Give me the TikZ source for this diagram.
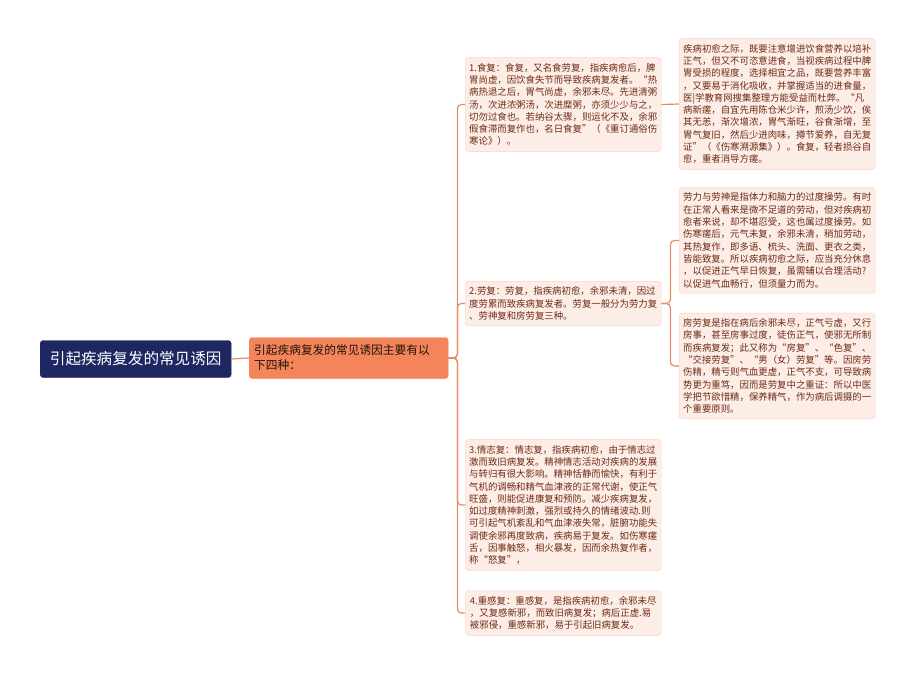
\documentclass[tikz,border=0pt]{standalone}
\usepackage{fontspec}
\newfontfamily\cjk{Noto Sans CJK SC}
\definecolor{navy}{HTML}{1E2761}
\definecolor{coral}{HTML}{F4845A}
\definecolor{blush}{HTML}{FDEDE7}
\definecolor{blushline}{HTML}{F8D3C6}
\definecolor{linkc}{HTML}{E48D66}
\definecolor{leaftext}{HTML}{6E2A12}
\begin{document}
\begin{tikzpicture}
[x=1pt,y=-1pt,
rootbox/.style={draw=navy,fill=navy,text=white,rounded corners=3pt,anchor=west,
  minimum width=191pt,minimum height=37pt,font=\cjk\fontsize{15.6}{18}\selectfont},
midbox/.style={draw=coral,fill=coral,text=black!85!brown,rounded corners=3pt,anchor=west,
  text width=189pt,minimum height=41pt,align=left,inner xsep=5pt,
  font=\cjk\fontsize{11.7}{15}\selectfont},
leafbox/.style={draw=blushline,fill=blush,text=leaftext,rounded corners=3pt,anchor=west,
  minimum width=196pt,align=left,inner xsep=4pt,inner ysep=5.5pt,
  font=\cjk\fontsize{9.4}{12.3}\selectfont},
link/.style={draw=linkc,line width=1.2pt,rounded corners=4pt}]
\useasboundingbox[fill=white] (0,0) rectangle (915,675);

\node[rootbox] (root) at (40,359) {引起疾病复发的常见诱因};
\node[midbox] (mid) at (249,358) {引起疾病复发的常见诱因主要有以\\下四种：};

\node[leafbox] (shi) at (465,104.5) {1.食复：食复，又名食劳复，指疾病愈后，脾\\
胃尚虚，因饮食失节而导致疾病复发者。“热\\
病热退之后，胃气尚虚，余邪未尽。先进清粥\\
汤，次进浓粥汤，次进糜粥，亦须少少与之，\\
切勿过食也。若纳谷太骤，则运化不及，余邪\\
假食滞而复作也，名日食复”（《重订通俗伤\\
寒论》）。};
\node[leafbox] (lao) at (465,303.5) {2.劳复：劳复，指疾病初愈，余邪未清，因过\\
度劳累而致疾病复发者。劳复一般分为劳力复\\
、劳神复和房劳复三种。};
\node[leafbox] (qing) at (465,505) {3.情志复：情志复，指疾病初愈，由于情志过\\
激而致旧病复发。精神情志活动对疾病的发展\\
与转归有很大影响。精神恬静而愉快，有利于\\
气机的调畅和精气血津液的正常代谢，使正气\\
旺盛，则能促进康复和预防。减少疾病复发，\\
如过度精神刺激，强烈或持久的情绪波动.则\\
可引起气机紊乱和气血津液失常，脏腑功能失\\
调使余邪再度致病，疾病易于复发。如伤寒瘥\\
舌，因事触怒，相火暴发，因而余热复作者，\\
称“怒复”，};
\node[leafbox] (gan) at (465,613) {4.重感复：重感复，是指疾病初愈，余邪未尽\\
，又复感新邪，而致旧病复发；病后正虚.易\\
被邪侵，重感新邪，易于引起旧病复发。};

\node[leafbox] (shi1) at (679,104) {疾病初愈之际，既要注意增进饮食营养以培补\\
正气，但又不可恣意进食，当视疾病过程中脾\\
胃受损的程度，选择相宜之品，既要营养丰富\\
，又要易于消化吸收，并掌握适当的进食量，\\
医|学教育网搜集整理方能受益而杜弊。“凡\\
病新瘥，自宜先用陈仓米少许，煎汤少饮，俟\\
其无恙，渐次增浓，胃气渐旺，谷食渐增，至\\
胃气复旧，然后少进肉味，撙节爱养，自无复\\
证”（《伤寒溯源集》）。食复，轻者损谷自\\
愈，重者消导方瘥。};
\node[leafbox] (lao1) at (679,240.5) {劳力与劳神是指体力和脑力的过度操劳。有时\\
在正常人看来是微不足道的劳动，但对疾病初\\
愈者来说，却不堪忍受，这也属过度操劳。如\\
伤寒瘥后，元气未复，余邪未清，稍加劳动，\\
其热复作，即多语、梳头、洗面、更衣之类，\\
皆能致复。所以疾病初愈之际，应当充分休息\\
，以促进正气早日恢复，虽需辅以合理活动?\\
以促进气血畅行，但须量力而为。};
\node[leafbox] (lao2) at (679,366) {房劳复是指在病后余邪未尽，正气亏虚，又行\\
房事，甚至房事过度，徒伤正气，使邪无所制\\
而疾病复发；此又称为“房复”、“色复”、\\
“交接劳复”、“男（女）劳复”等。因房劳\\
伤精，精亏则气血更虚，正气不支，可导致病\\
势更为重笃，因而是劳复中之重证：所以中医\\
学把节欲惜精，保养精气，作为病后调摄的一\\
个重要原则。};

% connectors
\draw[link] (root.east) -- (mid.west);
\foreach \k in {shi,lao,qing,gan}{
\draw[link] (mid.east) -- ++(9,0) |- (\k.west);
}
\draw[link] (shi.east) -- (shi1.west);
\draw[link] (lao.east) -- ++(9,0) |- (lao1.west);
\draw[link] (lao.east) -- ++(9,0) |- (lao2.west);
\end{tikzpicture}
\end{document}
